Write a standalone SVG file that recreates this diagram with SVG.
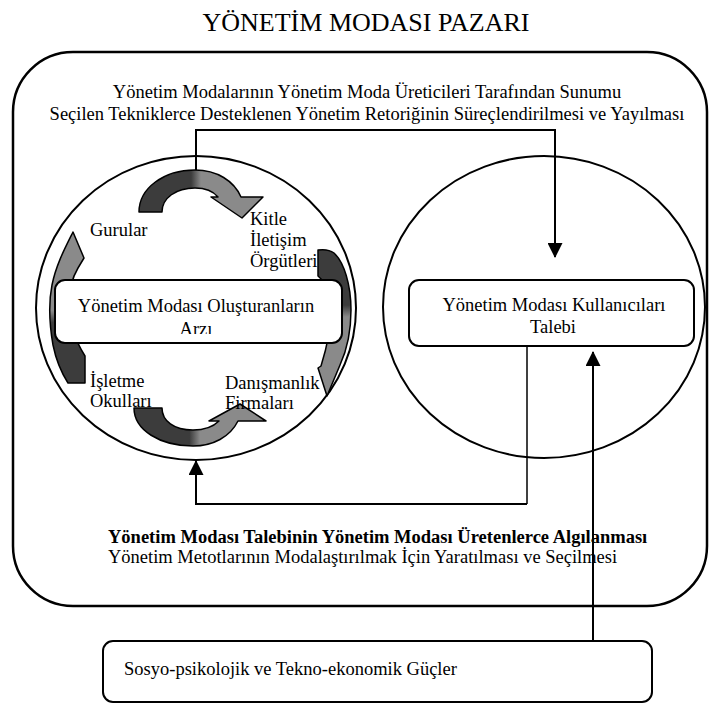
<svg xmlns="http://www.w3.org/2000/svg" width="709" height="704" viewBox="0 0 709 704">
<style>
text{font-family:"Liberation Serif","Times New Roman",serif;font-size:18.5px;fill:#000}
.title{font-size:26px}
.b{font-weight:bold}
.ln{fill:none;stroke:#000;stroke-width:2}
.thin{fill:none;stroke:#000;stroke-width:1.5}
.box{fill:#fff;stroke:#000;stroke-width:2}
.ca{stroke:#000;stroke-width:1.5;stroke-linejoin:round}
</style>
<defs>
<linearGradient id="gH" x1="0" y1="0" x2="1" y2="0">
<stop offset="0" stop-color="#3c3c3c"/><stop offset="0.42" stop-color="#3c3c3c"/><stop offset="0.5" stop-color="#8a8a8a"/><stop offset="1" stop-color="#8a8a8a"/>
</linearGradient>
<linearGradient id="gVd" x1="0" y1="0" x2="0" y2="1">
<stop offset="0" stop-color="#3c3c3c"/><stop offset="0.38" stop-color="#3c3c3c"/><stop offset="0.46" stop-color="#8a8a8a"/><stop offset="1" stop-color="#8a8a8a"/>
</linearGradient>
<linearGradient id="gVg" x1="0" y1="0" x2="0" y2="1">
<stop offset="0" stop-color="#8a8a8a"/><stop offset="0.52" stop-color="#8a8a8a"/><stop offset="0.6" stop-color="#3c3c3c"/><stop offset="1" stop-color="#3c3c3c"/>
</linearGradient>
<marker id="ah" viewBox="0 0 15 15" markerWidth="15" markerHeight="15" refX="14" refY="7.5" orient="auto" markerUnits="userSpaceOnUse">
<path d="M0,0 L15,7.5 L0,15 Z" fill="#000"/>
</marker>
<clipPath id="arzClip"><rect x="55" y="280" width="288" height="54"/></clipPath>
</defs>

<text class="title" x="366" y="31" text-anchor="middle">YÖNETİM MODASI PAZARI</text>

<g id="market">
<rect x="13" y="52" width="694" height="554" rx="60" ry="60" fill="none" stroke="#000" stroke-width="2.5"/>
<text x="367" y="98" text-anchor="middle">Yönetim Modalarının Yönetim Moda Üreticileri Tarafından Sunumu</text>
<text x="367" y="120" text-anchor="middle">Seçilen Tekniklerce Desteklenen Yönetim Retoriğinin Süreçlendirilmesi ve Yayılması</text>
<text class="b" x="108" y="543">Yönetim Modası Talebinin Yönetim Modası Üretenlerce Algılanması</text>
<text x="108" y="563">Yönetim Metotlarının Modalaştırılmak İçin Yaratılması ve Seçilmesi</text>
</g>

<g id="supply">
<ellipse cx="196" cy="308" rx="160" ry="152" fill="none" stroke="#000" stroke-width="2"/>
<path class="ca" fill="url(#gH)" d="M139,212 C139,188 164,170 195,170 C217,170 234,181 241,197 L263,197 L242,218 L211,197 L218,197 C213,191 205,188 195,188 C176,188 162,198 162,212 Z"/>
<path class="ca" fill="url(#gVd)" d="M318,250 C325,249 330,250 334,253 C344,262 351,285 351,310 C351,335 346,352 340,365 L327,396 L318,368 L321,366 C326,350 331,330 331,310 C331,292 325,282 318,276 Z"/>
<path class="ca" fill="url(#gH)" d="M134,408 C134,430 160,446 193,446 C213,446 230,437 238,421 L266,421 L240,404 L209,421 L219,421 C213,427 205,430 193,430 C174,430 162,421 162,408 Z"/>
<path class="ca" fill="url(#gVg)" d="M68,383 L85,383 L85,356 C75,340 69,322 69,305 C69,290 72,278 78,268 L84,258 L73,232 C65,248 56,265 52,285 C49,300 49,322 53,345 C56,360 61,372 68,383 Z"/>
<rect class="box" x="55" y="280" width="287" height="63" rx="10" ry="10"/>
<text x="196" y="312" text-anchor="middle">Yönetim Modası Oluşturanların</text>
<text x="196" y="335" text-anchor="middle" clip-path="url(#arzClip)">Arzı</text>
<text x="90" y="236">Gurular</text>
<text x="250" y="225">Kitle</text>
<text x="250" y="246">İletişim</text>
<text x="250" y="267">Örgütleri</text>
<text x="90" y="387">İşletme</text>
<text x="90" y="407">Okulları</text>
<text x="225" y="389">Danışmanlık</text>
<text x="225" y="409">Firmaları</text>
</g>

<g id="demand">
<ellipse cx="544" cy="307" rx="161" ry="151" fill="none" stroke="#000" stroke-width="2"/>
<rect class="box" x="409" y="280" width="285" height="66" rx="10" ry="10"/>
<text x="554" y="311" text-anchor="middle">Yönetim Modası Kullanıcıları</text>
<text x="553" y="333" text-anchor="middle">Talebi</text>
</g>

<g id="forces">
<rect class="box" x="103" y="641" width="549" height="61" rx="10" ry="10"/>
<text x="124" y="675">Sosyo-psikolojik ve Tekno-ekonomik Güçler</text>
</g>

<g id="connectors">
<path class="ln" d="M196,170 V130 H555 V257" marker-end="url(#ah)"/>
<path class="thin" d="M527,346 V504"/>
<path class="ln" d="M527,504 H196 V461" marker-end="url(#ah)"/>
<path class="ln" d="M593,641 V352" marker-end="url(#ah)"/>
</g>
</svg>
